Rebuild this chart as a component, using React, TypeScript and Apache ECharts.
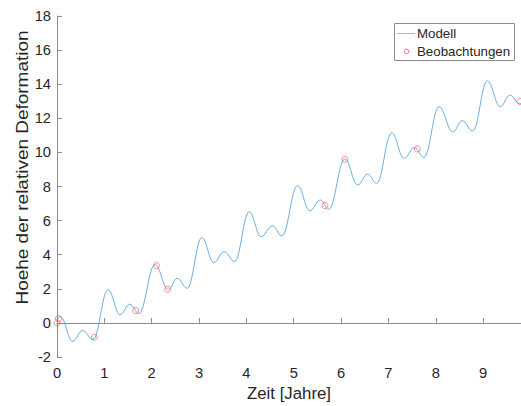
import React, { useEffect, useRef } from "react";
import * as echarts from "echarts";

// Model curve: values read at the turning points of the curve (years, deformation)
const modelX = [0.0, 0.07, 0.33, 0.54, 0.76, 1.08, 1.33, 1.54, 1.73, 2.07, 2.35, 2.54, 2.75, 3.06, 3.31, 3.53, 3.75, 4.06, 4.31, 4.55, 4.75, 5.08, 5.34, 5.56, 5.74, 6.08, 6.35, 6.56, 6.75, 7.07, 7.33, 7.55, 7.75, 8.07, 8.36, 8.56, 8.78, 9.09, 9.36, 9.57, 9.77, 9.8];
const modelY = [0.2, 0.38, -1.08, -0.45, -0.97, 1.95, 0.48, 1.1, 0.55, 3.42, 1.95, 2.62, 2.03, 5.0, 3.54, 4.18, 3.6, 6.52, 5.06, 5.69, 5.1, 8.05, 6.58, 7.21, 6.66, 9.62, 8.09, 8.73, 8.19, 11.15, 9.65, 10.28, 9.71, 12.68, 11.2, 11.86, 11.25, 14.2, 12.68, 13.36, 12.84, 12.86];

// Observations
const obsX = [0.0, 0.03, 0.79, 1.66, 2.1, 2.34, 5.66, 6.08, 7.61, 9.78];
const obsY = [0.0, 0.25, -0.84, 0.72, 3.36, 1.97, 6.88, 9.6, 10.2, 13.0];

const xTicks = [0, 1, 2, 3, 4, 5, 6, 7, 8, 9];
const yTicks = [-2, 0, 2, 4, 6, 8, 10, 12, 14, 16, 18];

const xTitle = "Zeit [Jahre]";
const yTitle = "Hoehe der relativen Deformation";
const legendNames = ["Modell", "Beobachtungen"];

const FONT = "'Liberation Sans', Arial, Helvetica, sans-serif";
const LINE_COLOR = "#5ba3dd";
const OBS_COLOR = "#ff3030";
const AXIS_COLOR = "#8c8c8c";
const TEXT_COLOR = "#262626";

export default function App() {
  const ref = useRef<HTMLDivElement>(null);

  useEffect(() => {
    if (!ref.current) return;
    const chart = echarts.init(ref.current, undefined, { renderer: "svg" });
    const option: any = {
      animation: false,
      backgroundColor: "#ffffff",
      grid: { left: 57, top: 16, right: 0, bottom: 49, containLabel: false },
      xAxis: {
        type: "value",
        min: 0,
        max: 9.8,
        interval: 1,
        axisLine: { show: true, lineStyle: { color: AXIS_COLOR, width: 1 } },
        axisTick: { show: true, inside: true, length: 5, lineStyle: { color: AXIS_COLOR } },
        splitLine: { show: false },
        axisLabel: {
          margin: 8,
          color: TEXT_COLOR,
          fontSize: 14.7,
          fontFamily: FONT,
          showMaxLabel: false,
          formatter: (v: number) => (xTicks.indexOf(v) >= 0 ? String(v) : ""),
        },
      },
      yAxis: {
        type: "value",
        min: yTicks[0],
        max: yTicks[yTicks.length - 1],
        interval: 2,
        axisLine: { show: true, lineStyle: { color: AXIS_COLOR, width: 1 } },
        axisTick: { show: true, inside: true, length: 5, lineStyle: { color: AXIS_COLOR } },
        splitLine: { show: false },
        axisLabel: {
          margin: 6,
          color: TEXT_COLOR,
          fontSize: 14.7,
          fontFamily: FONT,
        },
      },
      series: [
        {
          name: legendNames[0],
          type: "line",
          data: modelX.map((x, i) => [x, modelY[i]]),
          smooth: 0.4,
          smoothMonotone: "x",
          showSymbol: false,
          symbol: "none",
          lineStyle: { color: LINE_COLOR, width: 0.9 },
          z: 2,
        },
        {
          name: legendNames[1],
          type: "scatter",
          data: obsX.map((x, i) => [x, obsY[i]]),
          symbol: "circle",
          symbolSize: 6,
          itemStyle: { color: "rgba(0,0,0,0)", borderColor: OBS_COLOR, borderWidth: 0.7 },
          clip: false,
          z: 3,
        },
      ],
      graphic: [
        {
          type: "text",
          x: 289,
          y: 393,
          style: {
            text: xTitle,
            font: `16.8px ${FONT}`,
            fill: TEXT_COLOR,
            textAlign: "center",
            textVerticalAlign: "middle",
            align: "center",
            verticalAlign: "middle",
          },
        },
        {
          type: "text",
          x: 22.5,
          y: 167.5,
          rotation: Math.PI / 2,
          scaleX: 1.13,
          style: {
            text: yTitle,
            font: `16.8px ${FONT}`,
            fill: TEXT_COLOR,
            textAlign: "center",
            textVerticalAlign: "middle",
            align: "center",
            verticalAlign: "middle",
          },
        },
        {
          type: "group",
          z: 100,
          children: [
            {
              type: "rect",
              shape: { x: 394.5, y: 23.5, width: 120, height: 37 },
              style: { fill: "#ffffff", stroke: AXIS_COLOR, lineWidth: 1 },
            },
            {
              type: "rect",
              shape: { x: 397, y: 33, width: 18, height: 1 },
              style: { fill: "#8fc0e8", stroke: "none" },
            },
            {
              type: "text",
              x: 417,
              y: 33.5,
              style: {
                text: legendNames[0],
                font: `13.3px ${FONT}`,
                fill: TEXT_COLOR,
                textAlign: "left",
                textVerticalAlign: "middle",
                align: "left",
                verticalAlign: "middle",
              },
            },
            {
              type: "circle",
              shape: { cx: 406.5, cy: 51.5, r: 2.3 },
              style: { fill: "none", stroke: OBS_COLOR, lineWidth: 0.7 },
            },
            {
              type: "text",
              x: 417,
              y: 51.5,
              style: {
                text: legendNames[1],
                font: `13.3px ${FONT}`,
                fill: TEXT_COLOR,
                textAlign: "left",
                textVerticalAlign: "middle",
                align: "left",
                verticalAlign: "middle",
              },
            },
          ],
        },
      ],
    };
    chart.setOption(option);
    return () => chart.dispose();
  }, []);

  return (
    <div
      ref={ref}
      style={{ position: "fixed", left: 0, top: 0, width: 521, height: 406 }}
    />
  );
}
